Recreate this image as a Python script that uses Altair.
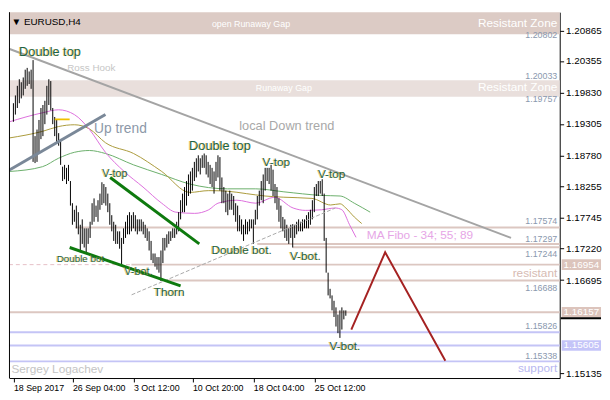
import altair as alt
import pandas as pd

# ---------------- data ----------------
highs = [1.1965, 1.1978, 1.1994, 1.2005, 1.2000, 1.2008, 1.2021, 1.2024, 1.2018, 1.2021,
         1.2037, 1.1910, 1.1921, 1.1937, 1.1957, 1.1962, 1.1969, 1.1994, 1.2005, 1.2002,
         1.1957, 1.1942, 1.1937, 1.1915, 1.1905, 1.1859, 1.1862, 1.1857, 1.1862, 1.1835,
         1.1798, 1.1787, 1.1794, 1.1783, 1.1762, 1.1771, 1.1756, 1.1756, 1.1756, 1.1767,
         1.1798, 1.1806, 1.1794, 1.1803, 1.1814, 1.1833, 1.1830, 1.1825, 1.1814, 1.1798,
         1.1778, 1.1767, 1.1762, 1.1751, 1.1751, 1.1740, 1.1756, 1.1767, 1.1778, 1.1783,
         1.1778, 1.1783, 1.1778, 1.1771, 1.1771, 1.1771, 1.1767, 1.1762, 1.1756, 1.1751,
         1.1735, 1.1714, 1.1714, 1.1708, 1.1708, 1.1719, 1.1740, 1.1740, 1.1746, 1.1751,
         1.1751, 1.1756, 1.1756, 1.1767, 1.1783, 1.1803, 1.1814, 1.1825, 1.1835, 1.1846,
         1.1851, 1.1857, 1.1867, 1.1873, 1.1878, 1.1873, 1.1878, 1.1881, 1.1878, 1.1867,
         1.1862, 1.1857, 1.1851, 1.1867, 1.1878, 1.1875, 1.1841, 1.1825, 1.1819, 1.1814,
         1.1819, 1.1814, 1.1810, 1.1798, 1.1794, 1.1778, 1.1771, 1.1762, 1.1771, 1.1767,
         1.1771, 1.1771, 1.1771, 1.1787, 1.1810, 1.1819, 1.1835, 1.1846, 1.1857, 1.1857,
         1.1857, 1.1862, 1.1854, 1.1830, 1.1825, 1.1806, 1.1794, 1.1775, 1.1771, 1.1762,
         1.1756, 1.1762, 1.1763, 1.1762, 1.1767, 1.1771, 1.1767, 1.1771, 1.1771, 1.1778,
         1.1783, 1.1787, 1.1803, 1.1825, 1.1830, 1.1835, 1.1835, 1.1838, 1.1814, 1.1740,
         1.1682, 1.1655, 1.1644, 1.1635, 1.1624, 1.1612, 1.1619, 1.1624, 1.1619, 1.1619]
lows = [1.1934, 1.1946, 1.1957, 1.1965, 1.1973, 1.1978, 1.1989, 1.1994, 1.1997, 1.1989,
        1.1867, 1.1865, 1.1867, 1.1883, 1.1905, 1.1910, 1.1930, 1.1946, 1.1962, 1.1953,
        1.1930, 1.1910, 1.1899, 1.1894, 1.1862, 1.1835, 1.1838, 1.1830, 1.1835, 1.1794,
        1.1762, 1.1767, 1.1756, 1.1746, 1.1716, 1.1730, 1.1724, 1.1716, 1.1730, 1.1740,
        1.1762, 1.1767, 1.1775, 1.1767, 1.1787, 1.1795, 1.1798, 1.1794, 1.1783, 1.1762,
        1.1751, 1.1735, 1.1730, 1.1730, 1.1722, 1.1695, 1.1730, 1.1740, 1.1746, 1.1746,
        1.1751, 1.1756, 1.1751, 1.1746, 1.1751, 1.1751, 1.1746, 1.1740, 1.1735, 1.1719,
        1.1703, 1.1698, 1.1692, 1.1687, 1.1682, 1.1668, 1.1698, 1.1719, 1.1724, 1.1730,
        1.1735, 1.1740, 1.1740, 1.1746, 1.1751, 1.1771, 1.1783, 1.1783, 1.1794, 1.1810,
        1.1814, 1.1819, 1.1835, 1.1841, 1.1851, 1.1846, 1.1857, 1.1857, 1.1846, 1.1841,
        1.1830, 1.1825, 1.1814, 1.1835, 1.1841, 1.1819, 1.1798, 1.1798, 1.1783, 1.1778,
        1.1787, 1.1787, 1.1778, 1.1767, 1.1751, 1.1751, 1.1746, 1.1735, 1.1746, 1.1746,
        1.1751, 1.1756, 1.1730, 1.1762, 1.1771, 1.1794, 1.1803, 1.1798, 1.1819, 1.1835,
        1.1830, 1.1819, 1.1810, 1.1798, 1.1787, 1.1767, 1.1756, 1.1751, 1.1740, 1.1735,
        1.1730, 1.1740, 1.1724, 1.1740, 1.1746, 1.1751, 1.1751, 1.1751, 1.1756, 1.1756,
        1.1756, 1.1762, 1.1771, 1.1783, 1.1810, 1.1810, 1.1814, 1.1810, 1.1735, 1.1682,
        1.1644, 1.1639, 1.1619, 1.1608, 1.1592, 1.1581, 1.1573, 1.1587, 1.1604, 1.1610]

# moving averages (bar index, price)
ma34_i = [-2, 14.8, 22.9, 31, 38.7, 46.8, 56.3, 65.9, 75.4, 82.6, 92.1, 99.3, 104, 113.6, 123.2,
          132.7, 142.2, 148.4, 156.6, 163.7, 167, 170.9, 174.2]
ma34_p = [1.1934, 1.1949, 1.1954, 1.1946, 1.1921, 1.1883, 1.1851, 1.1825, 1.1798, 1.1783, 1.1781,
          1.1787, 1.1798, 1.1803, 1.1798, 1.1808, 1.1790, 1.1786, 1.1787, 1.1790, 1.1787, 1.1762, 1.1741]
ma55_i = [-2, 14.8, 22.9, 31, 38.7, 46.8, 61.1, 75.4, 89.7, 99.3, 108.8, 118.4, 127.9, 137.5,
          151.8, 161.3, 166.1, 169, 173.3, 177.1]
ma55_p = [1.1907, 1.1918, 1.1926, 1.1929, 1.1922, 1.1899, 1.1881, 1.1851, 1.1816, 1.1819, 1.1818,
          1.1814, 1.1810, 1.1808, 1.1806, 1.1795, 1.1797, 1.1790, 1.1775, 1.1764]
ma89_i = [-2, 14.8, 22.9, 31, 38.7, 46.8, 61.1, 75.4, 89.7, 108.8, 123.2, 137.5, 156.6, 166.1,
          173.3, 181.4]
ma89_p = [1.1851, 1.1859, 1.1873, 1.1883, 1.1886, 1.1881, 1.1862, 1.1846, 1.1830, 1.1822, 1.1822,
          1.1817, 1.1811, 1.1810, 1.1798, 1.1783]

# levels
res_price = [1.17574, 1.17297, 1.17244, 1.16954, 1.16688, 1.16157]
res_from = [31.5, 124, 142, 60, 78, -2.25]
sup_price = [1.15826, 1.15605, 1.15338]
zone_top = [1.2117, 1.20033]
zone_bottom = [1.20802, 1.19757]

# drawn lines (bar index, price)
down_i, down_p = [-2.25, 253], [1.2056, 1.1740]
up_i, up_p = [-2.25, 46.8], [1.1853, 1.1946]
chan_hi_i, chan_hi_p = [49.2, 94.5], [1.1841, 1.1730]
chan_lo_i, chan_lo_p = [28.6, 85], [1.1724, 1.1660]
thin_i, thin_p = [60.1, 163.7], [1.1645, 1.1790]
fc_i, fc_p = [171.8, 189, 219.6], [1.1587, 1.1716, 1.1535]
hook_i, hook_p = [21, 28.6], [1.1938, 1.1938]

tick_idx = [0, 30, 61, 91, 122, 153]
tick_lab = ["18 Sep 2017", "26 Sep 04:00", "3 Oct 12:00", "10 Oct 20:00", "18 Oct 04:00", "25 Oct 12:00"]
y_ticks = [1.20865, 1.20355, 1.19830, 1.19305, 1.18780, 1.18255, 1.17745, 1.17220, 1.16695, 1.15135]

# annotations
ann_text = ["Double top", "Double top", "V-top", "V-top", "V-top", "Double bot", "Double bot.",
            "V-bot.", "V-bot.", "V-bot.", "Thorn"]
ann_i = [2.9, 105, 51.6, 133.7, 161.8, 22, 116, 63.5, 148.4, 168.5, 79.2]
ann_p = [1.2050, 1.1894, 1.1846, 1.1867, 1.1846, 1.1704, 1.1719, 1.1683, 1.1709, 1.1560, 1.1650]
ann_align = ["left", "center", "center", "center", "center", "left", "center", "center", "center",
             "center", "center"]
ann_size = [13, 13, 11, 12, 12, 10, 12, 11, 12, 12, 12]

small_lab = ["1.20802", "1.20033", "1.19757", "1.17574", "1.17297", "1.17244", "1.16688", "1.15826", "1.15338"]
small_p = [1.2078, 1.2010, 1.1972, 1.1768, 1.1738, 1.1713, 1.1657, 1.1593, 1.1543]

box_lab = ["1.16954", "1.16157", "1.15605"]
box_p = [1.16954, 1.16157, 1.15605]
box_fill = ["#dcc4bc", "#dcc4bc", "#c4c4f8"]

# ---------------- chart ----------------
W, H = 560, 372
X_DOM = [-2.25, 277.75]   # 2 px per bar, bars on half pixels
Y_DOM = [1.1506, 1.2117]
X_END = 277.75
X_RIGHT = 276.5
FONT = "Liberation Sans"
ROSE = "#dcc7c1"
LAV = "#c4c4f6"

label_expr = ("[" + ",".join(f"'{t}'" for t in tick_lab) + "][indexof(["
              + ",".join(str(v) for v in tick_idx) + "], datum.value)]")
AX_X = alt.Axis(values=tick_idx, labelExpr=label_expr, labelAlign="left", labelFont=FONT,
                labelFontSize=9, labelColor="black", tickColor="black", domainColor="black",
                tickSize=4, labelPadding=2, grid=False, labelOverlap=False, labelFlush=False, title=None)
AX_Y = alt.Axis(orient="right", values=y_ticks, format=".5f", labelFont=FONT, labelFontSize=10,
                labelColor="black", tickColor="black", domainColor="black", tickSize=4,
                labelPadding=2, grid=False, labelOverlap=False, labelFlush=False, title=None)
SX = alt.Scale(domain=X_DOM, nice=False, zero=False)
SY = alt.Scale(domain=Y_DOM, nice=False, zero=False)


def xs(field="x"):
    return alt.X(f"{field}:Q", scale=SX, axis=AX_X, title=None)


def ys(field="y"):
    return alt.Y(f"{field}:Q", scale=SY, axis=AX_Y, title=None)


bars = pd.DataFrame({"x": list(range(len(highs))), "y": highs, "y2": lows})
bar_layer = alt.Chart(bars).mark_rule(color="black", strokeWidth=1).encode(x=xs(), y=ys(), y2="y2:Q")

zone_layers = []
for top, bot, col in zip(zone_top, zone_bottom, ["#dccbc5", "#e9dfdc"]):
    zone_layers.append(alt.Chart(pd.DataFrame({"x": [X_DOM[0]], "x2": [X_END], "y": [top], "y2": [bot]}))
                       .mark_rect(color=col).encode(x=xs(), x2="x2:Q", y=ys(), y2="y2:Q"))

res_layer = alt.Chart(pd.DataFrame({"x": res_from, "x2": [X_END] * len(res_price), "y": res_price})).mark_rule(
    strokeWidth=2, color=ROSE).encode(x=xs(), x2="x2:Q", y=ys())
sup_layer = alt.Chart(pd.DataFrame({"x": [X_DOM[0]] * len(sup_price), "x2": [X_END] * len(sup_price),
                                    "y": sup_price})).mark_rule(strokeWidth=2, color=LAV).encode(
    x=xs(), x2="x2:Q", y=ys())
dash_layer = alt.Chart(pd.DataFrame({"x": [X_DOM[0]], "x2": [60], "y": [1.16954]})).mark_rule(
    color="#e6bfc6", strokeWidth=1, strokeDash=[4, 3]).encode(x=xs(), x2="x2:Q", y=ys())


def seg(xv, yv, color, width, dash=None, interp="linear"):
    kw = dict(color=color, strokeWidth=width, clip=True, interpolate=interp)
    if dash:
        kw["strokeDash"] = dash
    return alt.Chart(pd.DataFrame({"x": xv, "y": yv})).mark_line(**kw).encode(x=xs(), y=ys())


ma_layers = [
    seg(ma89_i, ma89_p, "#6aae6a", 1, interp="monotone"),
    seg(ma55_i, ma55_p, "#aa9a3a", 1, interp="monotone"),
    seg(ma34_i, ma34_p, "#dc6edc", 1, interp="monotone"),
]

lines = [
    seg(down_i, down_p, "#a4a4a4", 2),
    seg(up_i, up_p, "#7a8898", 3),
    seg(thin_i, thin_p, "#a8a8a8", 1, [4, 2]),
    seg(chan_hi_i, chan_hi_p, "#0e7a0e", 3),
    seg(chan_lo_i, chan_lo_p, "#0e7a0e", 3),
    seg(fc_i, fc_p, "#a52222", 2),
    seg(hook_i, hook_p, "#f0c000", 2),
]

ann = pd.DataFrame({"x": ann_i, "y": ann_p, "t": ann_text, "a": ann_align, "s": ann_size})
ann_layers = []
for al in ["left", "center"]:
    for sz in sorted(set(ann_size)):
        sub = ann[(ann.a == al) & (ann.s == sz)]
        if len(sub) == 0:
            continue
        ann_layers.append(alt.Chart(sub).mark_text(align=al, baseline="middle", font=FONT, fontSize=sz,
                                                    color="#e0b020", dx=-1, opacity=0.6).encode(x=xs(), y=ys(), text="t:N"))
        ann_layers.append(alt.Chart(sub).mark_text(align=al, baseline="middle", font=FONT, fontSize=sz,
                                                    color="#1d6448").encode(x=xs(), y=ys(), text="t:N"))


def label(t, xi, p, color, size, align="center"):
    return alt.Chart(pd.DataFrame({"x": [xi], "y": [p], "t": [t]})).mark_text(
        align=align, baseline="middle", font=FONT, fontSize=size, color=color).encode(x=xs(), y=ys(), text="t:N")


texts = [
    label("Ross Hook", 39.6, 1.2023, "#c6c6c6", 10),
    label("Up trend", 41, 1.1922, "#8c98a8", 14, "left"),
    label("local Down trend", 139, 1.1927, "#a8a8a8", 13),
    label("MA Fibo - 34; 55; 89", 206.7, 1.1744, "#e6a6e6", 12),
    label("open Runaway Gap", 120.8, 1.2097, "white", 9),
    label("Runaway Gap", 137.5, 1.1991, "white", 9),
    label("Resistant Zone", X_RIGHT, 1.2099, "white", 12, "right"),
    label("Resistant Zone", X_RIGHT, 1.1992, "white", 12, "right"),
    label("resistant", X_RIGHT, 1.1681, "#d6bab2", 12, "right"),
    label("support", X_RIGHT, 1.1523, "#b8b8f0", 12, "right"),
    label("Sergey Logachev", -1, 1.1521, "#c4c4c4", 12, "left"),
    label("\u25bc EURUSD,H4", -1, 1.2101, "black", 10, "left"),
]

small = pd.DataFrame({"x": [X_RIGHT] * len(small_lab), "y": small_p, "t": small_lab})
small_layer = alt.Chart(small).mark_text(align="right", baseline="middle", font=FONT, fontSize=9,
                                         color="#8a98ae").encode(x=xs(), y=ys(), text="t:N")

box_layers = []
for lab, p, fill in zip(box_lab, box_p, box_fill):
    d = pd.DataFrame({"y": [p + 0.00088], "y2": [p - 0.00088], "yc": [p], "t": [lab]})
    box_layers.append(alt.Chart(d).mark_rect(color=fill).encode(
        x=alt.value(W + 2), x2=alt.value(W + 42), y=ys(), y2="y2:Q"))
    box_layers.append(alt.Chart(d).mark_text(align="center", baseline="middle", font=FONT, fontSize=10,
                                             color="white").encode(x=alt.value(W + 22), y=ys("yc"), text="t:N"))

price_mark = alt.Chart(pd.DataFrame({"y": [1.1606]})).mark_rule(color="black", strokeWidth=2).encode(
    x=alt.value(W + 1), x2=alt.value(W + 42), y=ys())
left_border = alt.Chart(pd.DataFrame({"a": [0]})).mark_rule(color="black", strokeWidth=1).encode(
    x=alt.value(0.5), y=alt.value(0), y2=alt.value(H))

chart = alt.layer(
    *zone_layers, res_layer, sup_layer, dash_layer, *ma_layers, bar_layer, *lines, *ann_layers, *texts,
    small_layer, *box_layers, price_mark, left_border,
).properties(width=W, height=H, padding=0, background="white").configure_view(stroke=None)

chart.save("out.html", embed_options={"renderer": "svg", "actions": False})
